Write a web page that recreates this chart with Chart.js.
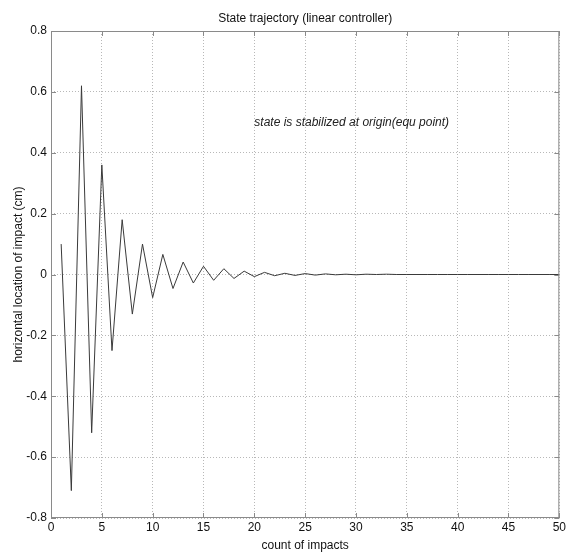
<!DOCTYPE html>
<html>
<head>
<meta charset="utf-8">
<script src="https://cdn.jsdelivr.net/npm/chart.js@4/dist/chart.umd.min.js"></script>
<style>
  body { margin: 0; background: #fff; }
</style>
</head>
<body>
<canvas id="plot-data" width="568" height="553"></canvas>
<script>
// impact count (x) and horizontal location of impact (y, cm)
const impacts = [1, 2, 3, 4, 5, 6, 7, 8, 9, 10, 11, 12, 13, 14, 15, 16, 17, 18, 19, 20,
    21, 22, 23, 24, 25, 26, 27, 28, 29, 30, 31, 32, 33, 34, 35, 36, 37, 38, 39, 40,
    41, 42, 43, 44, 45, 46, 47, 48, 49, 50]
const impactLocation = [0.10, -0.71, 0.62, -0.52, 0.36, -0.25, 0.18, -0.13, 0.10, -0.076,
    0.066, -0.046, 0.041, -0.028, 0.027, -0.019, 0.019, -0.013, 0.011, -0.007,
    0.007, -0.004, 0.004, -0.003, 0.003, -0.002, 0.002, -0.001, 0.001, -0.001,
    0.001, 0, 0.001, 0, 0, 0, 0, 0, 0, 0,
    0, 0, 0, 0, 0, 0, 0, 0, 0, 0]
const xTicks = [0, 5, 10, 15, 20, 25, 30, 35, 40, 45, 50]
const yTicks = [-0.8, -0.6, -0.4, -0.2, 0, 0.2, 0.4, 0.6, 0.8]
const title = 'State trajectory (linear controller)'
const note = { x: 20, y: 0.5, text: 'state is stabilized at origin(equ point)' }

const plot = []
for (let i = 0; i < impacts.length; i++) {
    plot.push({ x: impacts[i], y: impactLocation[i] })
}

const font = "'Liberation Sans Narrow', 'Liberation Sans', Arial, sans-serif"

// title over the axes, box round them, inward tick marks and the text note
const boxPlugin = {
    id: 'box',
    afterDraw(chart) {
        const ctx = chart.ctx
        const a = chart.chartArea
        const xs = chart.scales.x
        const ys = chart.scales.y
        ctx.save()
        ctx.strokeStyle = '#8a8a8a'
        ctx.lineWidth = 1
        ctx.strokeRect(a.left + 0.5, a.top + 0.5, a.right - a.left - 1, a.bottom - a.top - 1)
        ctx.beginPath()
        xTicks.forEach(v => {
            const px = Math.round(xs.getPixelForValue(v)) + 0.5
            ctx.moveTo(px, a.bottom); ctx.lineTo(px, a.bottom - 5)
            ctx.moveTo(px, a.top); ctx.lineTo(px, a.top + 5)
        })
        yTicks.forEach(v => {
            const py = Math.round(ys.getPixelForValue(v)) + 0.5
            ctx.moveTo(a.left, py); ctx.lineTo(a.left + 5, py)
            ctx.moveTo(a.right, py); ctx.lineTo(a.right - 5, py)
        })
        ctx.stroke()

        ctx.fillStyle = '#111'
        ctx.font = '12px ' + font
        ctx.textAlign = 'center'
        ctx.textBaseline = 'middle'
        ctx.fillText(title, (a.left + a.right) / 2, a.top - 12)

        ctx.fillStyle = '#222'
        ctx.font = 'italic 12px ' + font
        ctx.textAlign = 'left'
        ctx.fillText(note.text, xs.getPixelForValue(note.x), ys.getPixelForValue(note.y))
        ctx.restore()
    }
}

const ctx = document.getElementById('plot-data').getContext('2d')
const graph = new Chart(ctx, {
    type: 'line',
    data: {
        datasets: [{
            borderColor: '#3a3a3a',
            borderWidth: 1,
            radius: 0,
            tension: 0,
            data: plot,
        }]
    },
    options: {
        responsive: false,
        animation: false,
        layout: {
            padding: { left: 0, right: 7, top: 31, bottom: 0 }
        },
        plugins: {
            legend: false,
            tooltip: { enabled: false },
            title: { display: false }
        },
        scales: {
            x: {
                type: 'linear',
                min: 0,
                max: 50,
                afterFit(scale) { scale.height = 35 },
                afterBuildTicks(scale) { scale.ticks = xTicks.map(v => ({ value: v })) },
                grid: {
                    color: '#b8b8b8',
                    tickLength: 0,
                    drawTicks: false
                },
                border: { display: false, dash: [1, 2] },
                ticks: {
                    color: '#111',
                    padding: 2,
                    font: { family: font, size: 12 },
                    maxRotation: 0
                },
                title: {
                    display: true,
                    text: 'count of impacts',
                    color: '#111',
                    font: { family: font, size: 12 },
                    padding: { top: 0, bottom: 0 }
                }
            },
            y: {
                type: 'linear',
                min: -0.8,
                max: 0.8,
                afterFit(scale) { scale.width = 51 },
                afterBuildTicks(scale) { scale.ticks = yTicks.map(v => ({ value: v })) },
                grid: {
                    color: '#b8b8b8',
                    tickLength: 0,
                    drawTicks: false
                },
                border: { display: false, dash: [1, 2] },
                ticks: {
                    color: '#111',
                    padding: 4,
                    font: { family: font, size: 12 },
                    callback: v => String(Math.round(v * 10) / 10)
                },
                title: {
                    display: true,
                    text: 'horizontal location of impact (cm)',
                    color: '#111',
                    font: { family: font, size: 12 },
                    padding: { top: 11, bottom: 0 }
                }
            }
        }
    },
    plugins: [boxPlugin]
})
</script>
</body>
</html>
